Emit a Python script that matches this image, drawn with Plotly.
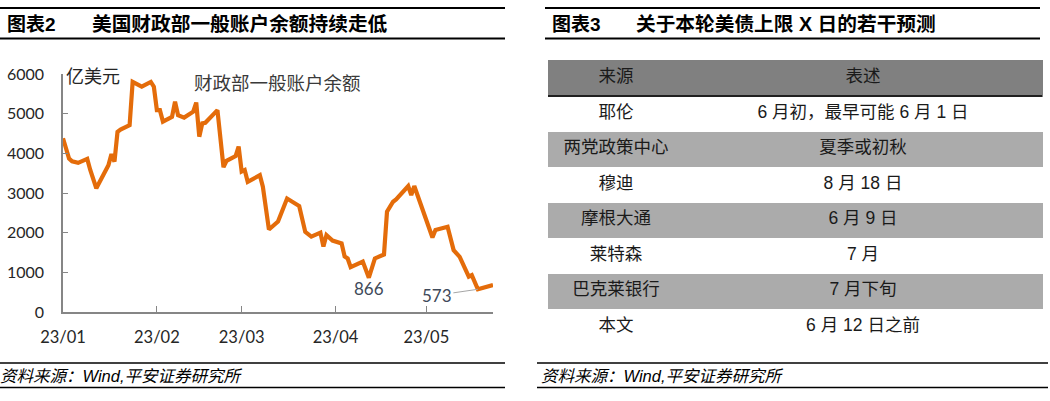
import plotly.graph_objects as go

W, H = 1050, 401

# ---------------- data ----------------
dates = ["2023-01-01","2023-01-03","2023-01-04","2023-01-06","2023-01-09","2023-01-10","2023-01-12",
         "2023-01-16","2023-01-17","2023-01-18","2023-01-19","2023-01-20","2023-01-23","2023-01-24",
         "2023-01-27","2023-01-30","2023-01-31",
         "2023-02-01","2023-02-02","2023-02-03","2023-02-06","2023-02-07","2023-02-08","2023-02-10",
         "2023-02-13","2023-02-14","2023-02-15","2023-02-16","2023-02-17","2023-02-21","2023-02-23",
         "2023-02-24","2023-02-27","2023-02-28",
         "2023-03-01","2023-03-02","2023-03-03","2023-03-07","2023-03-08","2023-03-10","2023-03-13",
         "2023-03-16","2023-03-20","2023-03-22","2023-03-24","2023-03-27","2023-03-28","2023-03-29",
         "2023-03-31",
         "2023-04-03","2023-04-04","2023-04-05","2023-04-06","2023-04-10","2023-04-12","2023-04-14",
         "2023-04-17","2023-04-18","2023-04-20","2023-04-21","2023-04-25","2023-04-26","2023-04-27",
         "2023-05-03","2023-05-04","2023-05-08","2023-05-10","2023-05-12","2023-05-15","2023-05-16",
         "2023-05-18","2023-05-23"]
tga_balance = [4380,3870,3800,3760,3860,3580,3120,3700,3980,3790,4540,4600,4710,5800,5680,5800,5680,
               5090,5090,4800,4920,5300,4960,4900,5050,5280,4420,4755,4770,5090,3650,3810,3930,4170,
               3540,3580,3280,3450,3160,2080,2280,2860,2670,2020,1900,2000,1650,1940,1800,
               1730,1400,1350,1130,1270,866,1350,1450,2530,2780,2840,3175,2950,3175,
               1880,2066,2150,1560,1390,890,930,573,680]
series_name = "财政部一般账户余额"
unit_label = "亿美元"
x_tickvals = ["2023-01-01","2023-02-01","2023-03-01","2023-04-01","2023-05-01"]
x_ticktext = ["23/01","23/02","23/03","23/04","23/05"]
label_points = [("2023-04-12", 866), ("2023-05-18", 573)]

table_sources = ["耶伦","两党政策中心","穆迪","摩根大通","莱特森","巴克莱银行","本文"]
table_views = ["6 月初，最早可能 6 月 1 日","夏季或初秋","8 月 18 日","6 月 9 日","7 月","7 月下旬","6 月 12 日之前"]
table_header = ["来源","表述"]

title_left = "美国财政部一般账户余额持续走低"
title_right = "关于本轮美债上限 X 日的若干预测"
source_text = "资料来源：Wind,平安证券研究所"

# ---------------- helpers ----------------
def px(x):
    return x / W

def py(y):
    return 1 - y / H

CJK = "Noto Sans CJK SC"
NUM = "Lato, Noto Sans CJK SC"
ARIAL = "Liberation Sans, Noto Sans CJK SC"
ORANGE = "#E46C0A"
AXIS = "#868686"
TXT = "#262626"

fig = go.Figure()

fig.add_trace(go.Scatter(
    x=dates, y=tga_balance, mode="lines",
    line=dict(color=ORANGE, width=4.2),
    name=series_name, showlegend=False, hoverinfo="x+y",
))

fig.update_layout(
    width=W, height=H, autosize=False,
    margin=dict(l=0, r=0, t=0, b=0, pad=0, autoexpand=False),
    paper_bgcolor="white", plot_bgcolor="white",
    showlegend=False,
    xaxis=dict(
        domain=[px(63), px(493)],
        type="date",
        range=["2023-01-01", "2023-05-23"],
        tickvals=x_tickvals, ticktext=x_ticktext,
        ticks="inside", ticklen=6, tickcolor=AXIS, tickwidth=1.3,
        showline=True, linecolor=AXIS, linewidth=1.5,
        showgrid=False, zeroline=False, automargin=False,
        tickfont=dict(family=NUM, size=16.5, color=TXT),
        ticklabelstandoff=9,
    ),
    yaxis=dict(
        domain=[py(312), py(74)],
        range=[0, 6000], dtick=1000,
        ticks="inside", ticklen=5, tickcolor=AXIS, tickwidth=1.3,
        showline=True, linecolor=AXIS, linewidth=1.5,
        showgrid=False, zeroline=False, automargin=False,
        tickfont=dict(family=NUM, size=16, color=TXT),
        ticklabelstandoff=14,
    ),
)

# table
row_fill = ["white" if i % 2 == 0 else "#ABABAB" for i in range(len(table_sources))]
fig.add_trace(go.Table(
    domain=dict(x=[px(548), px(1042)], y=[py(347), py(60.5)]),
    columnwidth=[136, 358],
    header=dict(
        values=table_header,
        fill_color="#808080",
        line=dict(color="#808080", width=1),
        align="center",
        font=dict(family=ARIAL, size=17.5, color="#1a1a1a"),
        height=36,
    ),
    cells=dict(
        values=[table_sources, table_views],
        fill_color=[row_fill, row_fill],
        line=dict(color=[row_fill, row_fill], width=1),
        align="center",
        font=dict(family=ARIAL, size=17.5, color="#1a1a1a"),
        height=35.5,
    ),
))

shapes = []
# title rules
for x0, x1 in [(0, 505), (545, 1040)]:
    shapes.append(dict(type="line", xref="paper", yref="paper", x0=px(x0), x1=px(x1),
                       y0=py(8), y1=py(8), line=dict(color="black", width=2)))
    shapes.append(dict(type="line", xref="paper", yref="paper", x0=px(x0), x1=px(x1),
                       y0=py(38.5), y1=py(38.5), line=dict(color="black", width=2)))
# footer rules
for x0, x1 in [(0, 505), (537, 1048)]:
    shapes.append(dict(type="line", xref="paper", yref="paper", x0=px(x0), x1=px(x1),
                       y0=py(363), y1=py(363), line=dict(color="black", width=1.6)))
    shapes.append(dict(type="line", xref="paper", yref="paper", x0=px(x0), x1=px(x1),
                       y0=py(387.5), y1=py(387.5), line=dict(color="black", width=1.6)))
# header bottom rule in table
shapes.append(dict(type="line", xref="paper", yref="paper", x0=px(548), x1=px(1042),
                   y0=py(96), y1=py(96), line=dict(color="black", width=1.5)))
fig.update_layout(shapes=shapes)

ann = []
# titles
ann.append(dict(xref="paper", yref="paper", x=px(5), y=py(24), xanchor="left", yanchor="middle",
                text="<b>图表2</b>", showarrow=False, font=dict(family=ARIAL, size=19, color="black")))
ann.append(dict(xref="paper", yref="paper", x=px(90), y=py(24), xanchor="left", yanchor="middle",
                text="<b>" + title_left + "</b>", showarrow=False, font=dict(family=ARIAL, size=19.7, color="black")))
ann.append(dict(xref="paper", yref="paper", x=px(550), y=py(24), xanchor="left", yanchor="middle",
                text="<b>图表3</b>", showarrow=False, font=dict(family=ARIAL, size=19, color="black")))
ann.append(dict(xref="paper", yref="paper", x=px(634), y=py(24), xanchor="left", yanchor="middle",
                text="<b>" + title_right + "</b>", showarrow=False, font=dict(family=ARIAL, size=19.7, color="black")))
# footers
for x0 in [-2, 539]:
    ann.append(dict(xref="paper", yref="paper", x=px(x0), y=py(375.5), xanchor="left", yanchor="middle",
                    text="<i>" + source_text + "</i>", showarrow=False,
                    font=dict(family=ARIAL, size=16.5, color="black")))
# unit and series labels
ann.append(dict(xref="paper", yref="paper", x=px(64), y=py(75), xanchor="left", yanchor="middle",
                text=unit_label, showarrow=False, font=dict(family=CJK, size=18, color=TXT)))
ann.append(dict(xref="paper", yref="paper", x=px(192), y=py(82), xanchor="left", yanchor="middle",
                text=series_name, showarrow=False, font=dict(family=CJK, size=18.5, color="#3a3a3a")))
# data labels
d866, v866 = label_points[0]
ann.append(dict(x=d866, y=v866, xref="x", yref="y", text=str(v866), showarrow=False,
                yshift=-11, font=dict(family=NUM, size=17, color="#404a5a")))
d573, v573 = label_points[1]
ann.append(dict(x=d573, y=v573, xref="x", yref="y", text=str(v573), showarrow=True,
                arrowhead=0, arrowwidth=1, arrowcolor="#A6A6A6", ax=-41, ay=6, standoff=0,
                font=dict(family=NUM, size=17, color="#404a5a")))
fig.update_layout(annotations=ann)

fig.write_html("out.html",
               config={"displayModeBar": False},
               post_script="document.body.style.margin='0';document.body.style.overflow='hidden';")
